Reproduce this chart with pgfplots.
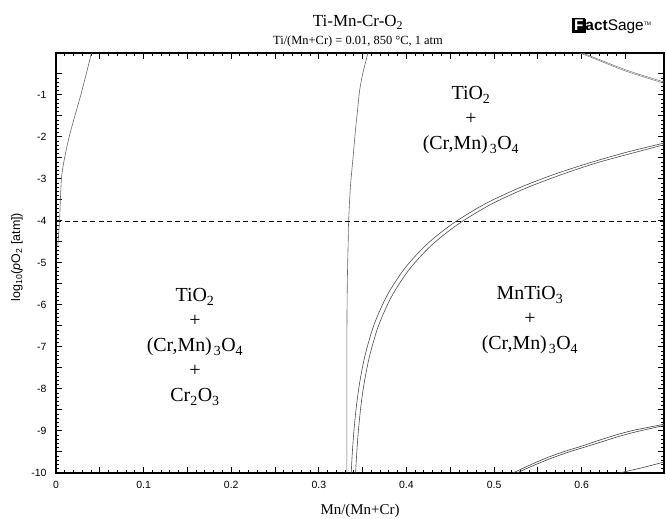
\documentclass[border=0pt]{standalone}
\usepackage{fontspec}
\setmainfont{Liberation Serif}
\setsansfont{Liberation Sans}
\usepackage{pgfplots}
\pgfplotsset{compat=1.18}
\begin{document}
\begin{tikzpicture}[x=1bp,y=1bp]
\useasboundingbox (0,0) rectangle (666,519);
\begin{axis}[
  at={(56bp,46bp)}, anchor=south west,
  scale only axis, width=608bp, height=420bp,
  xmin=0, xmax=0.694, ymin=-10, ymax=0,
  axis line style={line width=1.3pt},
  tick style={line width=1pt, black},
  major tick length=6bp, minor tick length=3bp,
  tick align=inside,
  xtick pos=both, ytick pos=both,
  xticklabel pos=lower, yticklabel pos=left,
  xtick={0,0.05,0.1,0.15,0.2,0.25,0.3,0.35,0.4,0.45,0.5,0.55,0.6,0.65},
  xticklabels={0,,0.1,,0.2,,0.3,,0.4,,0.5,,0.6,},
  ytick={-10,-9.5,-9,-8.5,-8,-7.5,-7,-6.5,-6,-5.5,-5,-4.5,-4,-3.5,-3,-2.5,-2,-1.5,-1,-0.5},
  yticklabels={-10,,-9,,-8,,-7,,-6,,-5,,-4,,-3,,-2,,-1,},
  minor x tick num=4, minor y tick num=4,
  ticklabel style={font=\sffamily\fontsize{10.5}{11}\selectfont},
  xticklabel style={yshift=-5bp},
  yticklabel style={xshift=-6bp},
  /pgf/number format/assume math mode=true,
]
% left curve
\addplot[black!60, line width=0.6bp, smooth] coordinates {
(0.002,-4.6) (0.004,-4.0) (0.0062,-3.0) (0.0098,-2.5) (0.0150,-2.0) (0.0215,-1.5) (0.0283,-1.0) (0.0345,-0.5) (0.0405,0)};
% middle single curve
\addplot[black!60, line width=0.6bp, smooth] coordinates {
(0.332,-10) (0.332,-7) (0.3325,-5.5) (0.3335,-4.5) (0.334,-4.0) (0.336,-3.2) (0.339,-2.5) (0.342,-1.8) (0.3445,-1.3) (0.3465,-0.9) (0.350,-0.5) (0.353,-0.25) (0.356,0)};
% double curve A
\addplot[black!70, line width=0.6bp, smooth] coordinates {
(0.337,-10.0) (0.338,-9.59) (0.340,-9.01) (0.343,-8.39) (0.347,-7.80) (0.353,-7.18) (0.363,-6.47) (0.378,-5.77) (0.398,-5.13) (0.423,-4.56) (0.453,-4.06) (0.49,-3.59) (0.53,-3.20) (0.57,-2.88) (0.61,-2.61) (0.65,-2.37) (0.695,-2.14)};
% double curve B
\addplot[black!70, line width=0.6bp, smooth] coordinates {
(0.342,-10.0) (0.343,-9.62) (0.345,-9.03) (0.348,-8.41) (0.352,-7.83) (0.358,-7.21) (0.368,-6.50) (0.383,-5.80) (0.403,-5.16) (0.428,-4.59) (0.458,-4.09) (0.495,-3.62) (0.535,-3.23) (0.575,-2.91) (0.615,-2.63) (0.655,-2.40) (0.695,-2.18)};
% top right
\addplot[black!55, line width=0.5bp, smooth] coordinates {
(0.598,0) (0.62,-0.18) (0.64,-0.35) (0.66,-0.5) (0.694,-0.72)};
\addplot[black!55, line width=0.5bp, smooth] coordinates {
(0.601,0) (0.62,-0.155) (0.64,-0.32) (0.66,-0.47) (0.694,-0.69)};
% bottom right
\addplot[black!75, line width=0.6bp, smooth] coordinates {
(0.5215,-10) (0.54,-9.82) (0.56,-9.64) (0.58,-9.49) (0.60,-9.36) (0.62,-9.22) (0.64,-9.09) (0.66,-8.98) (0.694,-8.84)};
\addplot[black!75, line width=0.6bp, smooth] coordinates {
(0.526,-10) (0.544,-9.83) (0.564,-9.66) (0.584,-9.51) (0.604,-9.38) (0.624,-9.25) (0.644,-9.12) (0.664,-9.01) (0.694,-8.87)};
\addplot[black!75, line width=0.6bp] coordinates {
(0.643,-10) (0.67,-9.87) (0.694,-9.74)};
% dashed line
\addplot[black, line width=0.9bp, dash pattern=on 5bp off 3.5bp] coordinates {(0,-4) (0.694,-4)};
\end{axis}
% titles
\node[anchor=base, inner sep=0, font=\fontsize{17}{20}\selectfont] at (358,492) {Ti-Mn-Cr-O\textsubscript{2}};
\node[anchor=base, inner sep=0, font=\fontsize{12.5}{15}\selectfont] at (358,474) {Ti/(Mn+Cr) = 0.01, 850 °C, 1 atm};
% logo
\node[anchor=base west, inner sep=0, font=\sffamily\bfseries\fontsize{15.5}{16}\selectfont] at (572,488) {\setlength{\fboxsep}{1.5bp}\fcolorbox{black}{black}{\textcolor{white}{F}}act\mdseries Sage\textsuperscript{\fontsize{5}{5}\selectfont TM}};
% axis labels
\node[anchor=base, inner sep=0, font=\fontsize{15}{17}\selectfont] at (360,4) {Mn/(Mn+Cr)};
\node[rotate=90, inner sep=0, font=\sffamily\fontsize{12.5}{14}\selectfont] at (17,262) {log\textsubscript{10}(\textit{p}O\textsubscript{2} [atm])};
% region labels
\begin{scope}[every node/.style={anchor=base, inner sep=0, font=\fontsize{20}{24}\selectfont}]
\node at (471,419) {TiO\textsubscript{2}};
\node at (471,394) {+};
\node at (471,369) {(Cr,Mn)\hspace{2bp}\textsubscript{3}O\textsubscript{4}};
\node at (195,217) {TiO\textsubscript{2}};
\node at (195,192) {+};
\node at (195,167) {(Cr,Mn)\hspace{2bp}\textsubscript{3}O\textsubscript{4}};
\node at (195,142) {+};
\node at (195,117) {Cr\textsubscript{2}O\textsubscript{3}};
\node at (530,219) {MnTiO\textsubscript{3}};
\node at (530,194) {+};
\node at (530,169) {(Cr,Mn)\hspace{2bp}\textsubscript{3}O\textsubscript{4}};
\end{scope}
\end{tikzpicture}
\end{document}
